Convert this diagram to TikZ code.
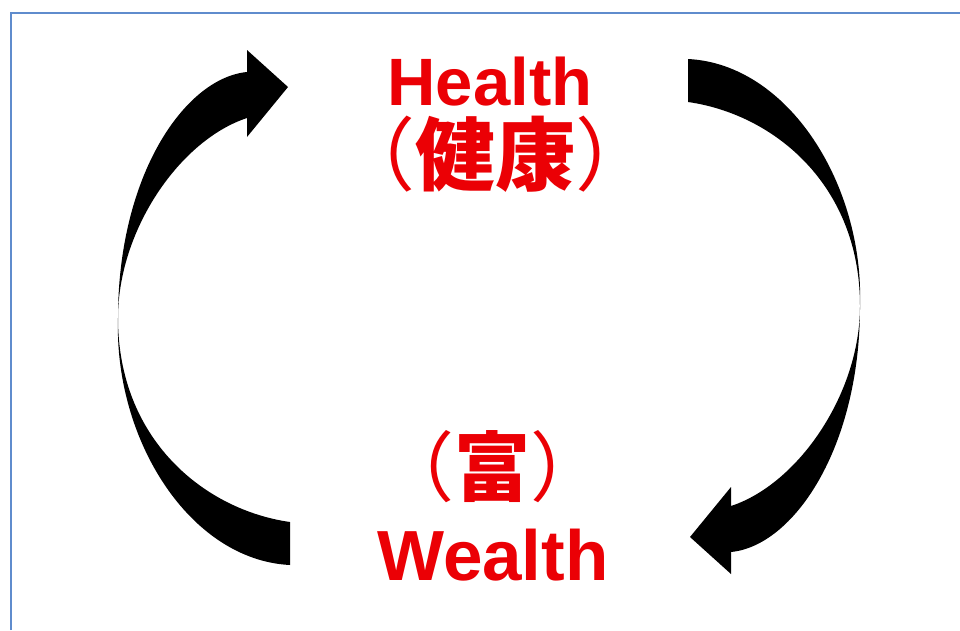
\documentclass[tikz,border=0pt]{standalone}
\usepackage{fontspec}
\setmainfont{Liberation Sans}
\newfontfamily\cjk{Noto Sans CJK JP}
\definecolor{txtred}{RGB}{235,0,5}
\definecolor{framecol}{RGB}{95,140,205}
\newcommand{\lpar}{{\mdseries （}}
\newcommand{\rpar}{{\mdseries ）}}
\begin{document}
\begin{tikzpicture}[x=1pt,y=-1pt,
  cycarrow/.style={fill=black},
  lbl/.style={text=txtred, inner sep=0pt, anchor=base}]
\useasboundingbox (0,0) rectangle (960,630);
\fill[white] (0,0) rectangle (960,630);
\draw[framecol, line width=2pt] (11,630) -- (11,13) -- (960,13);

% left arrow (Wealth -> Health)
\fill[cycarrow] (290,565) -- (290,522)
  .. controls (205,510) and (118,440) .. (118,318)
  .. controls (118,230) and (180,140) .. (247,118)
  -- (247,137) -- (288,87) -- (247,50) -- (247,72)
  .. controls (185,78) and (118,175) .. (118,318)
  .. controls (114,440) and (190,560) .. (290,565) -- cycle;

% right arrow (Health -> Wealth), same shape turned half round
\begin{scope}[rotate around={180:(489,312)}]
\fill[cycarrow] (290,565) -- (290,522)
  .. controls (205,510) and (118,440) .. (118,318)
  .. controls (118,230) and (180,140) .. (247,118)
  -- (247,137) -- (288,87) -- (247,50) -- (247,72)
  .. controls (185,78) and (118,175) .. (118,318)
  .. controls (114,440) and (190,560) .. (290,565) -- cycle;
\end{scope}

\node[lbl, font=\fontsize{67pt}{67pt}\selectfont\bfseries] (health) at (490,105) {Health};
\node[lbl, font=\fontsize{80pt}{80pt}\selectfont\cjk\bfseries] (kenko) at (495,184) {\lpar 健康\rpar};
\node[lbl, font=\fontsize{76pt}{76pt}\selectfont\cjk\bfseries] (tomi) at (492,495) {\lpar 富\rpar};
\node[lbl, font=\fontsize{71pt}{71pt}\selectfont\bfseries] (wealth) at (493,580) {Wealth};
\end{tikzpicture}
\end{document}
